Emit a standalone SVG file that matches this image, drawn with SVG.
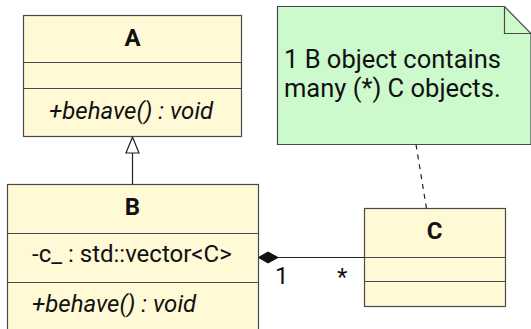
<svg xmlns="http://www.w3.org/2000/svg" width="531" height="329" viewBox="0 0 531 329">
  <style>
    .cls { fill: #FFF9D6; stroke: #4A4A4A; stroke-width: 1.2; }
    .div { stroke: #4A4A4A; stroke-width: 1.2; fill: none; }
    .note { fill: #CCFACC; stroke: #4A4A4A; stroke-width: 1.2; }
    text { font-family: Roboto, "Liberation Sans", sans-serif; font-size: 24px; fill: #111; }
    .title { font-weight: bold; text-anchor: middle; }
    .op { font-style: italic; }
    .memo { font-size: 25.5px; }
    .edge { stroke: #222; stroke-width: 1.2; fill: none; }
  </style>

  <g id="A">
    <rect class="cls" x="23.5" y="15.5" width="218" height="121"/>
    <line class="div" x1="23.5" y1="62.5" x2="241.5" y2="62.5"/>
    <line class="div" x1="23.5" y1="88.5" x2="241.5" y2="88.5"/>
    <text class="title" x="132.5" y="46">A</text>
    <text class="op" x="49" y="119">+behave() : void</text>
  </g>

  <g id="B">
    <rect class="cls" x="7.5" y="184.5" width="251" height="150"/>
    <line class="div" x1="7.5" y1="233.5" x2="258.5" y2="233.5"/>
    <line class="div" x1="7.5" y1="282.5" x2="258.5" y2="282.5"/>
    <text class="title" x="132.5" y="215">B</text>
    <text x="32" y="262">-c_ : std::vector&lt;C&gt;</text>
    <text class="op" x="32" y="312">+behave() : void</text>
  </g>

  <g id="C">
    <rect class="cls" x="364.5" y="208.5" width="141" height="98"/>
    <line class="div" x1="364.5" y1="257.5" x2="505.5" y2="257.5"/>
    <line class="div" x1="364.5" y1="281.5" x2="505.5" y2="281.5"/>
    <text class="title" x="434.5" y="239">C</text>
  </g>

  <g id="note">
    <path class="note" d="M277.5,6.5 H504.5 L531,33.5 V144.5 H277.5 Z"/>
    <path class="div" d="M504.5,6.5 V33.5 H531"/>
    <text class="memo" x="284" y="68">1 B object contains</text>
    <text class="memo" x="284" y="97">many (*) C objects.</text>
  </g>

  <g id="connectors">
    <!-- generalization B -> A -->
    <line class="edge" x1="132.5" y1="153" x2="132.5" y2="184.5"/>
    <polygon points="132.5,137 126,153 139,153" fill="#fff" stroke="#222" stroke-width="1.2"/>
    <!-- composition B <>- C -->
    <line class="edge" x1="278" y1="257.5" x2="364.5" y2="257.5"/>
    <polygon points="258.5,257.5 268,252 278,257.5 268,263" fill="#111" stroke="#111" stroke-width="1"/>
    <text x="275" y="284">1</text>
    <text x="337" y="285">*</text>
    <!-- note anchor -->
    <line class="edge" x1="416" y1="144.5" x2="426.5" y2="208.5" stroke-dasharray="5,5"/>
  </g>
</svg>
